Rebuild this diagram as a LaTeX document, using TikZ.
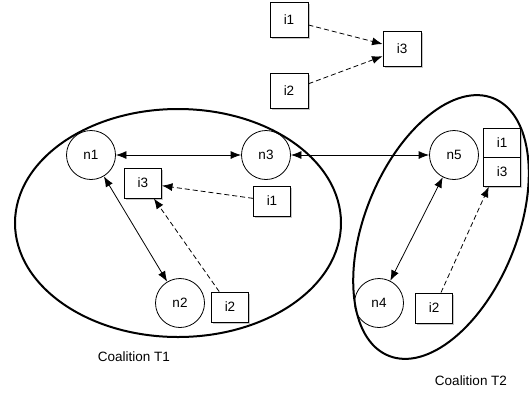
\documentclass[tikz,border=0pt]{standalone}
\usepackage{fontspec}
\setmainfont{Liberation Sans}
\usetikzlibrary{arrows.meta, shapes.multipart, shadows}

\begin{document}
\begin{tikzpicture}[x=1pt, y=-1pt, >={Latex[length=10.5pt,width=8pt]},
  font=\fontsize{13.5}{16}\selectfont,
  agent/.style={draw, circle, line width=0.8pt, minimum size=49pt, inner sep=0pt},
  infobox/.style={draw, fill=white, line width=0.9pt, minimum width=37pt, minimum height=30pt, inner sep=0pt,
    drop shadow={opacity=0.45, shadow xshift=1.5pt, shadow yshift=-1.5pt}},
  link/.style={<->, line width=0.8pt},
  feed/.style={->, line width=0.8pt, dash pattern=on 5pt off 3pt},
  coal/.style={line width=2pt}]

\useasboundingbox (0,0) rectangle (529,397);

% coalitions
\draw[coal] (178,223) ellipse [x radius=163pt, y radius=114pt];
\draw[coal, rotate around={67.8:(441,227)}] (441,227) ellipse [x radius=139pt, y radius=76pt];

% top: i1, i2 give i3
\node[infobox, minimum width=38pt, minimum height=35pt] (ti1) at (289,20) {i1};
\node[infobox, minimum width=38pt, minimum height=35pt] (ti2) at (289,91) {i2};
\node[infobox, minimum width=38pt, minimum height=35pt] (ti3) at (402,49) {i3};

% coalition T1
\node[agent] (n1) at (91,155) {n1};
\node[agent] (n3) at (266,155) {n3};
\node[agent] (n2) at (180,303) {n2};
\node[infobox] (ai3) at (143,183) {i3};
\node[infobox] (ai1) at (272,201) {i1};
\node[infobox] (ai2) at (230,307) {i2};

% coalition T2
\node[agent] (n5) at (454,155) {n5};
\node[agent] (n4) at (379,303) {n4};
\node[infobox, minimum height=0pt, inner ysep=9pt, rectangle split, rectangle split parts=2] (bst) at (502,157.5) {i1 \nodepart{two} i3};
\node[infobox] (bi2) at (434,308) {i2};

\node (lt1) at (134,357) {Coalition T1};
\node (lt2) at (471,381) {Coalition T2};

\draw[link] (n1) -- (n3);
\draw[link] (n3) -- (n5);
\draw[link] (n1) -- (n2);
\draw[link] (n5) -- (n4);

\draw[feed] (ti1) -- (ti3);
\draw[feed] (ti2) -- (ti3);
\draw[feed] (ai1) -- (ai3);
\draw[feed] (ai2) -- (ai3);
\draw[feed] (bi2) -- (bst);

\end{tikzpicture}
\end{document}
